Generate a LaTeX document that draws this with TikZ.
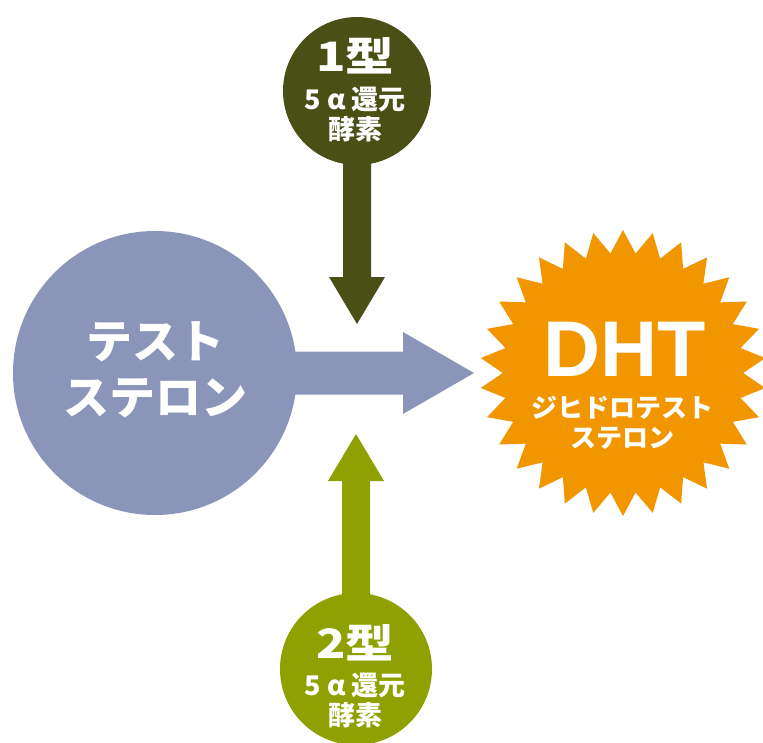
\documentclass[tikz,border=0pt]{standalone}
\usepackage{fontspec}
\newfontfamily\jp{Noto Sans CJK JP}
\newfontfamily\lat{Liberation Sans}
\usetikzlibrary{shapes.geometric,backgrounds}
\definecolor{testoblue}{HTML}{8A95B9}
\definecolor{typeone}{HTML}{4A5015}
\definecolor{typetwo}{HTML}{8FA100}
\definecolor{dhtorange}{HTML}{F29600}
\newcommand{\enzymename}{5\hspace{7pt}α\hspace{5pt}還元\\酵素}
\begin{document}
\begin{tikzpicture}[x=1pt,y=-1pt,
  ball/.style={circle,inner sep=0pt,fill=#1},
  lbl/.style={text=white,align=center,inner sep=0pt}]
\useasboundingbox (0,0) rectangle (763,742);
\clip (0,0) rectangle (763,742);
% circles and the burst
\node[ball=testoblue,minimum size=284pt] (testo) at (155,373) {};
\node[ball=typeone,minimum size=148pt] (type1) at (357,91) {};
\node[ball=typetwo,minimum size=152pt] (type2) at (356,669) {};
\node[star,star points=30,star point ratio=1.19,minimum size=286pt,
  inner sep=0pt,fill=dhtorange] (dht) at (623,373) {};
% block arrows
\begin{scope}[on background layer]
\fill[testoblue,shift={(testo.center)}] (0,-21.5) -- (248,-21.5) -- (248,-41)
  -- (319,0) -- (248,41) -- (248,21.5) -- (0,21.5) -- cycle;
\fill[typeone,shift={(type1.center)}] (-14,0) -- (-14,186) -- (-28,186)
  -- (0,233) -- (28,186) -- (14,186) -- (14,0) -- cycle;
\fill[typetwo,shift={(type2.center)}] (-14,0) -- (-14,-188) -- (-28,-188)
  -- (0,-235) -- (28,-188) -- (14,-188) -- (14,0) -- cycle;
\end{scope}
% labels
\node[lbl,font=\jp\bfseries\fontsize{46}{56}\selectfont] (testoname) at (155,370) {テスト\\ステロン};
\node[lbl,font=\lat\bfseries\fontsize{79}{79}\selectfont] (dhtname) at (625,349) {DHT};
\node[lbl,font=\jp\bfseries\fontsize{26}{30}\selectfont] (dhtfull) at (622,423) {ジヒドロテスト\\ステロン};
\node[lbl,font=\jp\bfseries\fontsize{44}{44}\selectfont] (type1name) at (355,56) {\scalebox{1.1}[0.92]{1型}};
\node[lbl,font=\jp\bfseries\fontsize{27}{30}\selectfont] (type1full) at (355,115) {\enzymename};
\node[lbl,font=\jp\bfseries\fontsize{44}{44}\selectfont] (type2name) at (355,643) {\scalebox{1.1}[0.92]{2型}};
\node[lbl,font=\jp\bfseries\fontsize{27}{30}\selectfont] (type2full) at (355,701) {\enzymename};
\end{tikzpicture}
\end{document}
